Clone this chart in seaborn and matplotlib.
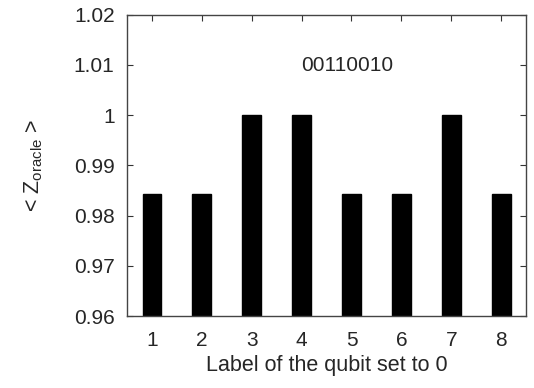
import matplotlib
matplotlib.use("Agg")
import matplotlib.pyplot as plt
import pandas as pd
import seaborn as sns

# data
qubits = [1, 2, 3, 4, 5, 6, 7, 8]
z_oracle = [0.984375, 0.984375, 1.0, 1.0, 0.984375, 0.984375, 1.0, 0.984375]
y_ticks = [0.96, 0.97, 0.98, 0.99, 1.0, 1.01, 1.02]
y_tick_labels = ["0.96", "0.97", "0.98", "0.99", "1", "1.01", "1.02"]
pattern = "00110010"

df = pd.DataFrame({"qubit": qubits, "z": z_oracle})

sns.set_style("ticks")
plt.rcParams["font.family"] = ["Liberation Sans", "DejaVu Sans"]

fig, ax = plt.subplots(figsize=(5.34, 3.88), dpi=100)
fig.subplots_adjust(left=0.238, right=0.985, top=0.962, bottom=0.185)

sns.barplot(data=df, x="qubit", y="z", color="black", width=0.38,
            native_scale=True, ax=ax, saturation=1)
for p in ax.patches:
    p.set_edgecolor("black")

ax.set_xlim(0.5, 8.5)
ax.set_ylim(0.96, 1.02)
ax.set_xticks(qubits)
ax.set_xticklabels([str(q) for q in qubits])
ax.set_yticks(y_ticks)
ax.set_yticklabels(y_tick_labels)

ax.tick_params(direction="in", length=4, width=0.8, top=True, right=True,
               labelsize=15, color="#333333")
ax.tick_params(axis="x", pad=11)
ax.tick_params(axis="y", pad=9)
for s in ax.spines.values():
    s.set_visible(True)
    s.set_linewidth(1.0)
    s.set_color("#444444")

ax.set_xlabel("Label of the qubit set to 0", fontsize=15.5, labelpad=3)
ax.set_ylabel(r"< Z$_{\mathregular{oracle}}$ >", fontsize=15.5, labelpad=21)
ax.text(4.92, 1.0098, pattern, fontsize=15, ha="center", va="center")

fig.savefig("out.png", dpi=100)
